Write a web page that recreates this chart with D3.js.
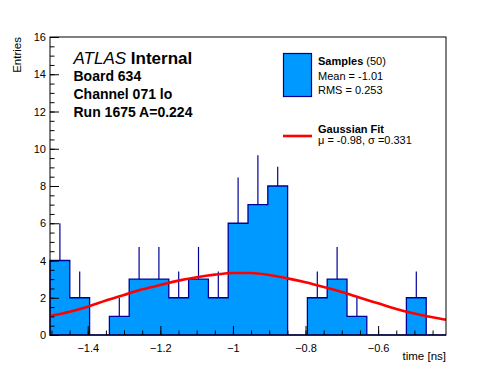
<!DOCTYPE html>
<html>
<head>
<meta charset="utf-8">
<script src="https://cdn.jsdelivr.net/npm/d3@7"></script>
<style>
  html, body { margin: 0; padding: 0; background: #fff; }
  svg { display: block; font-family: "Liberation Sans", Arial, Helvetica, sans-serif; }
</style>
</head>
<body>
<svg id="chart" width="496" height="372"></svg>
<script>
// ---- data ----
const binLow = -1.504;
const binHigh = -0.413;
const counts = [4, 2, 0, 1, 3, 3, 2, 3, 2, 6, 7, 8, 0, 2, 3, 1, 0, 0, 2, 0];
const errors = [2, 1.41, 0, 1, 1.73, 1.73, 1.41, 1.73, 1.41, 2.45, 2.65, 1.04, 0, 1.41, 1.73, 1, 0, 0, 1.41, 0];
const fitX = [-1.504, -1.45, -1.4, -1.35, -1.3, -1.25, -1.2, -1.15, -1.1, -1.05, -1.0, -0.95, -0.9, -0.85, -0.8, -0.75, -0.7, -0.65, -0.6, -0.55, -0.5, -0.45, -0.413];
const fitY = [1.02, 1.25, 1.52, 1.85, 2.15, 2.45, 2.68, 2.92, 3.10, 3.24, 3.33, 3.33, 3.22, 3.04, 2.83, 2.58, 2.31, 2.00, 1.70, 1.40, 1.15, 0.95, 0.82];
const xTickValues = [-1.4, -1.2, -1.0, -0.8, -0.6];
const xTickLabels = ["\u22121.4", "\u22121.2", "\u22121", "\u22120.8", "\u22120.6"];
const yTickValues = [0, 2, 4, 6, 8, 10, 12, 14, 16];
const yTickLabels = ["0", "2", "4", "6", "8", "10", "12", "14", "16"];
const yMax = 16;
const infoLines = ["Board 634", "Channel 071 lo", "Run 1675 A=0.224"];
const legendSamples = { title: "Samples", count: "(50)", mean: "Mean = -1.01", rms: "RMS = 0.253" };
const legendFit = { title: "Gaussian Fit", params: "\u03bc = -0.98, \u03c3 =0.331" };

// ---- layout ----
const L = 50, R = 446, T = 37, B = 335;
const svg = d3.select("#chart");
const x = d3.scaleLinear().domain([binLow, binHigh]).range([L, R]);
const y = d3.scaleLinear().domain([0, yMax]).range([B, T]);

const nb = counts.length;
const bw = (binHigh - binLow) / nb;
const bins = counts.map((c, i) => ({ x0: binLow + i * bw, x1: binLow + (i + 1) * bw, c, e: errors[i] }));

const navy = "#000099";
const fillBlue = "#0099ff";

// error bars (drawn first so the filled histogram hides the lower half)
svg.append("g").selectAll("line").data(bins.filter(b => b.c > 0)).join("line")
  .attr("x1", b => x((b.x0 + b.x1) / 2)).attr("x2", b => x((b.x0 + b.x1) / 2))
  .attr("y1", b => y(b.c - b.e)).attr("y2", b => y(b.c + b.e))
  .attr("stroke", navy).attr("stroke-width", 1.2);

// histogram step path
const pts = [[bins[0].x0, 0]];
bins.forEach(b => { pts.push([b.x0, b.c]); pts.push([b.x1, b.c]); });
pts.push([bins[nb - 1].x1, 0]);
const stepLine = d3.line().x(d => x(d[0])).y(d => y(d[1]));
svg.append("path").attr("d", stepLine(pts) + "Z")
  .attr("fill", fillBlue).attr("stroke", navy).attr("stroke-width", 1.3);

// fit curve
const fitLine = d3.line().x((d, i) => x(fitX[i])).y(d => y(d)).curve(d3.curveMonotoneX);
svg.append("path").attr("d", fitLine(fitY))
  .attr("fill", "none").attr("stroke", "#ff0000").attr("stroke-width", 2.6);

// axes (ticks inside the frame)
const xMinor = d3.range(-1.5, -0.41, 0.05).map(v => +v.toFixed(3)).filter(v => v >= binLow && v <= binHigh);
const yMinor = d3.range(0, yMax + 0.01, 0.5);

svg.append("g").attr("transform", `translate(0,${B})`)
  .call(d3.axisBottom(x).tickValues(xMinor).tickSize(-4.5).tickFormat(""))
  .call(g => g.select(".domain").remove());
const gx = svg.append("g").attr("transform", `translate(0,${B})`)
  .call(d3.axisBottom(x).tickValues(xTickValues).tickSize(-9).tickPadding(9)
    .tickFormat((d, i) => xTickLabels[i]));
gx.select(".domain").remove();
gx.selectAll("text").attr("font-size", 11).attr("fill", "#000").attr("font-family", "Liberation Sans, Arial, sans-serif");

svg.append("g").attr("transform", `translate(${L},0)`)
  .call(d3.axisLeft(y).tickValues(yMinor).tickSize(-4.5).tickFormat(""))
  .call(g => g.select(".domain").remove());
const gy = svg.append("g").attr("transform", `translate(${L},0)`)
  .call(d3.axisLeft(y).tickValues(yTickValues).tickSize(-9).tickPadding(4)
    .tickFormat((d, i) => yTickLabels[i]));
gy.select(".domain").remove();
gy.selectAll("text").attr("font-size", 11).attr("fill", "#000").attr("font-family", "Liberation Sans, Arial, sans-serif");
svg.selectAll(".tick line").attr("stroke", "#000");

// frame
svg.append("rect").attr("x", L).attr("y", T).attr("width", R - L).attr("height", B - T)
  .attr("fill", "none").attr("stroke", "#000").attr("stroke-width", 1);

// axis titles
svg.append("text").attr("x", R).attr("y", 360).attr("text-anchor", "end")
  .attr("font-size", 11.5).text("time [ns]");
svg.append("text").attr("transform", `translate(21,${T}) rotate(-90)`).attr("text-anchor", "end")
  .attr("font-size", 11.5).text("Entries");

// ATLAS label block
const atl = svg.append("text").attr("x", 73.5).attr("y", 63.5).attr("font-size", 17);
atl.append("tspan").attr("font-style", "italic").text("ATLAS");
atl.append("tspan").attr("font-weight", "bold").text(" Internal");
svg.append("g").selectAll("text").data(infoLines).join("text")
  .attr("x", 73.5).attr("y", (d, i) => 81 + i * 18.2)
  .attr("font-size", 14).attr("font-weight", "bold").text(d => d);

// legend
svg.append("rect").attr("x", 283.5).attr("y", 53.5).attr("width", 28).attr("height", 43)
  .attr("fill", fillBlue).attr("stroke", navy).attr("stroke-width", 1.2);
const st = svg.append("text").attr("x", 318).attr("y", 65).attr("font-size", 11);
st.append("tspan").attr("font-weight", "bold").text(legendSamples.title);
st.append("tspan").text(" " + legendSamples.count);
svg.append("text").attr("x", 318).attr("y", 80).attr("font-size", 11).text(legendSamples.mean);
svg.append("text").attr("x", 318).attr("y", 94).attr("font-size", 11).text(legendSamples.rms);

svg.append("line").attr("x1", 283).attr("x2", 312).attr("y1", 136).attr("y2", 136)
  .attr("stroke", "#ff0000").attr("stroke-width", 2.6);
svg.append("text").attr("x", 318).attr("y", 133).attr("font-size", 11).attr("font-weight", "bold").text(legendFit.title);
svg.append("text").attr("x", 318).attr("y", 143.5).attr("font-size", 11).text(legendFit.params);
</script>
</body>
</html>
